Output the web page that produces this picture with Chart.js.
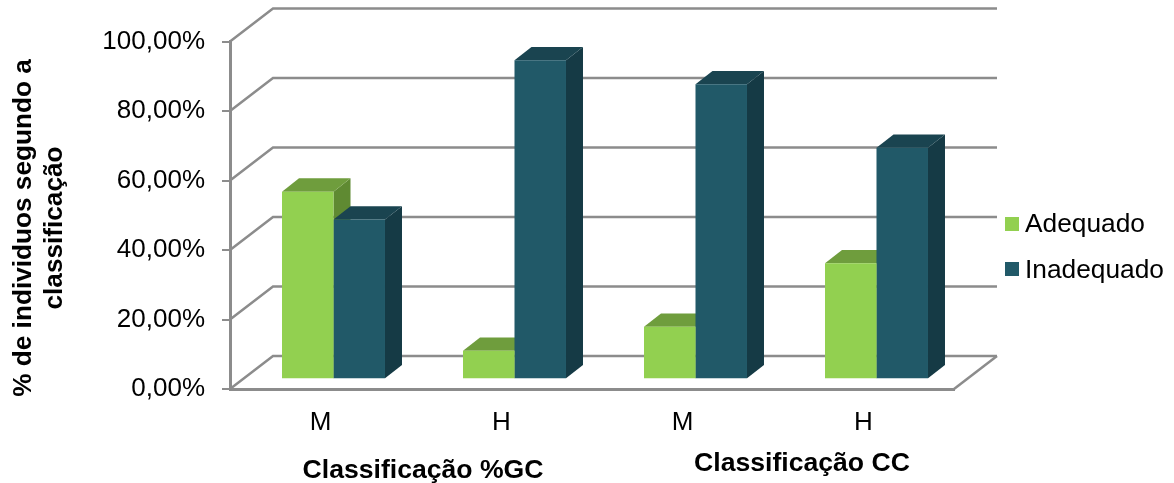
<!DOCTYPE html>
<html>
<head>
<meta charset="utf-8">
<title>Classificação</title>
<script src="https://cdn.jsdelivr.net/npm/chart.js@4/dist/chart.umd.min.js"></script>
<style>
    body { margin: 0; background: #fff; }
    canvas { display: block; }
</style>
</head>
<body>
<canvas id="classChart" width="1174" height="483"></canvas>
<script>
// Chart values
const categories = ['M', 'H', 'M', 'H'];
const adequado = [54, 8.2, 15.1, 33.4];
const inadequado = [46, 91.8, 84.9, 66.6];
const yTickLabels = ['0,00%', '20,00%', '40,00%', '60,00%', '80,00%', '100,00%'];

const fontName = '"Liberation Sans", Arial, sans-serif';
const gridColor = '#8c8c8c';

// Depth of the back wall and of the bars, in pixels
const wallDepth = { x: 43, y: 33 };
const barOffset = { x: 13, y: 9.7 };
const barDepth = { x: 17, y: 13.3 };

const faceColors = [
    { front: '#92d050', side: '#5f8a32', top: '#6f9d3d' },
    { front: '#215968', side: '#153a45', top: '#1a4450' }
];

// Back wall and floor, drawn behind the bars
const wallPlugin = {
    id: 'wall',
    beforeDatasetsDraw: function(chart) {
        const ctx = chart.ctx;
        const area = chart.chartArea;
        const yScale = chart.scales.y;

        ctx.save();
        ctx.strokeStyle = gridColor;
        ctx.lineWidth = 2.5;
        yScale.ticks.forEach(function(tick) {
            const y = yScale.getPixelForValue(tick.value);
            ctx.beginPath();
            ctx.moveTo(area.left, y);
            ctx.lineTo(area.left + wallDepth.x, y - wallDepth.y);
            ctx.lineTo(area.right + wallDepth.x, y - wallDepth.y);
            ctx.stroke();
        });
        ctx.beginPath();
        ctx.moveTo(area.right, area.bottom);
        ctx.lineTo(area.right + wallDepth.x, area.bottom - wallDepth.y);
        ctx.stroke();
        ctx.restore();
    }
};

// Top and side faces go down first, left series before right series,
// then the library paints the front faces over them
const depthPlugin = {
    id: 'depth',
    beforeDatasetsDraw: function(chart) {
        const ctx = chart.ctx;

        ctx.save();
        ctx.translate(barOffset.x, -barOffset.y);
        chart.data.datasets.forEach(function(dataset, index) {
            const colors = faceColors[index];
            chart.getDatasetMeta(index).data.forEach(function(bar) {
                const left = bar.x - bar.width / 2;
                const right = bar.x + bar.width / 2;

                ctx.fillStyle = colors.side;
                ctx.beginPath();
                ctx.moveTo(right, bar.y);
                ctx.lineTo(right + barDepth.x, bar.y - barDepth.y);
                ctx.lineTo(right + barDepth.x, bar.base - barDepth.y);
                ctx.lineTo(right, bar.base);
                ctx.closePath();
                ctx.fill();

                ctx.fillStyle = colors.top;
                ctx.beginPath();
                ctx.moveTo(left, bar.y);
                ctx.lineTo(left + barDepth.x, bar.y - barDepth.y);
                ctx.lineTo(right + barDepth.x, bar.y - barDepth.y);
                ctx.lineTo(right, bar.y);
                ctx.closePath();
                ctx.fill();
            });
        });
        ctx.restore();
    },
    beforeDatasetDraw: function(chart) {
        chart.ctx.save();
        chart.ctx.translate(barOffset.x, -barOffset.y);
    },
    afterDatasetDraw: function(chart) {
        chart.ctx.restore();
    }
};

// Axis captions and the legend beside the plot
const captionsPlugin = {
    id: 'captions',
    afterDraw: function(chart) {
        const ctx = chart.ctx;

        ctx.save();
        ctx.fillStyle = '#000';
        ctx.textBaseline = 'middle';

        ctx.font = 'bold 26.6px ' + fontName;
        ctx.textAlign = 'center';
        ctx.fillText('Classificação %GC', 423, 471);
        ctx.fillText('Classificação CC', 802, 464);

        ctx.save();
        ctx.font = 'bold 26.2px ' + fontName;
        ctx.translate(24, 228);
        ctx.rotate(-Math.PI / 2);
        ctx.fillText('% de individuos segundo a', 0, 0);
        ctx.fillText('classificação', 0, 31);
        ctx.restore();

        ctx.font = '26.3px ' + fontName;
        ctx.textAlign = 'left';
        chart.data.datasets.forEach(function(dataset, i) {
            const y = 224 + i * 45;
            ctx.fillStyle = dataset.backgroundColor;
            ctx.fillRect(1005, y - 7, 14, 14);
            ctx.fillStyle = '#000';
            ctx.fillText(dataset.label, 1025, y + 1 + i);
        });
        ctx.restore();
    }
};

new Chart(document.getElementById('classChart'), {
    type: 'bar',
    data: {
        labels: categories,
        datasets: [{
            label: 'Adequado',
            data: adequado,
            backgroundColor: faceColors[0].front
        }, {
            label: 'Inadequado',
            data: inadequado,
            backgroundColor: faceColors[1].front
        }]
    },
    options: {
        responsive: false,
        animation: false,
        layout: {
            padding: { top: 41.5, right: 220 }
        },
        plugins: {
            legend: { display: false },
            tooltip: { enabled: false }
        },
        datasets: {
            bar: { categoryPercentage: 0.569, barPercentage: 1 }
        },
        scales: {
            x: {
                afterFit: function(scale) { scale.height = 94; },
                grid: { display: false },
                border: { color: gridColor, width: 3 },
                ticks: {
                    color: '#000',
                    padding: 10,
                    maxRotation: 0,
                    font: { family: fontName, size: 26 }
                }
            },
            y: {
                min: 0,
                max: 100,
                afterFit: function(scale) { scale.width = 230; },
                grid: { drawOnChartArea: false, color: gridColor, lineWidth: 2, tickLength: 8 },
                border: { color: gridColor, width: 3 },
                ticks: {
                    stepSize: 20,
                    color: '#000',
                    padding: 17,
                    font: { family: fontName, size: 26 },
                    callback: function(value, index) { return yTickLabels[index]; }
                }
            }
        }
    },
    plugins: [wallPlugin, depthPlugin, captionsPlugin]
});
</script>
</body>
</html>
